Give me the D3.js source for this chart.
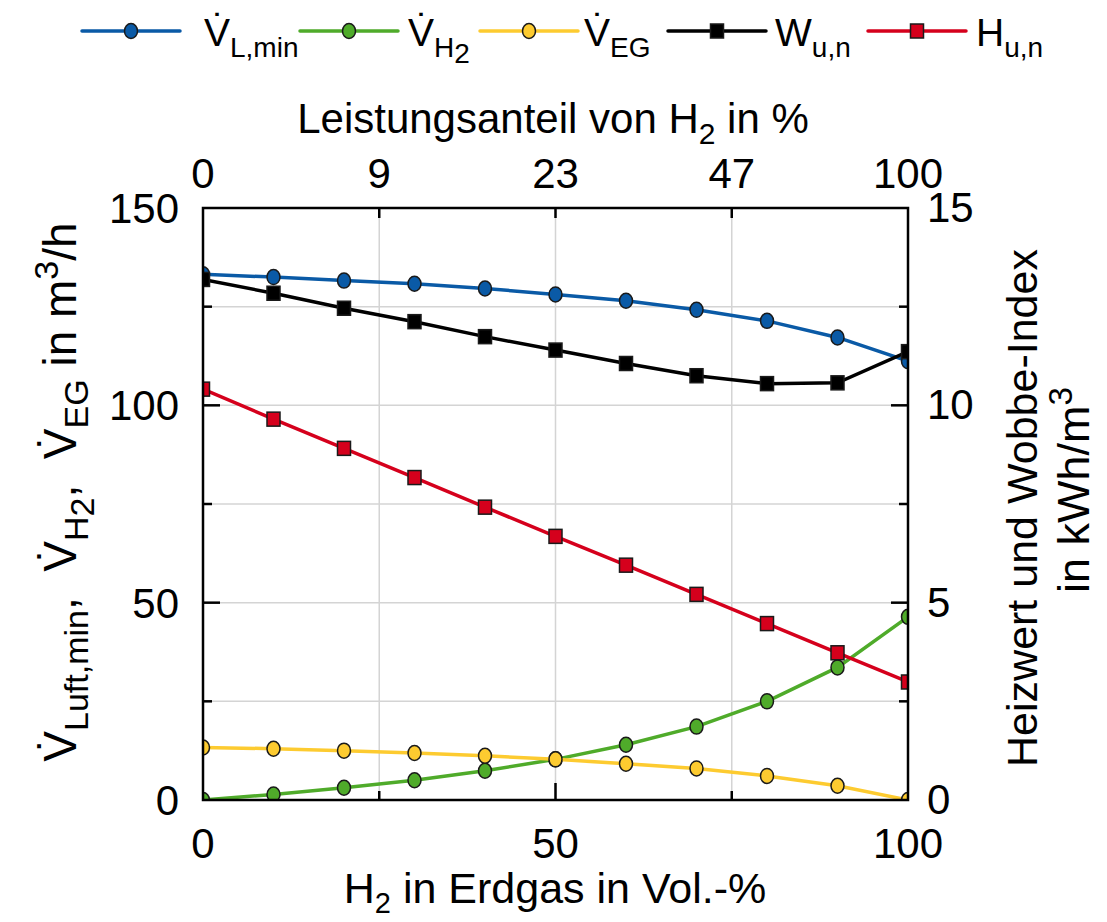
<!DOCTYPE html>
<html>
<head>
<meta charset="utf-8">
<script src="https://cdn.jsdelivr.net/npm/d3@7"></script>
<style>
  body { margin: 0; background: #fff; }
  svg text { font-family: "Liberation Sans", Arial, sans-serif; fill: #000; }
</style>
</head>
<body>
<div id="okvir"></div>
<script>
// H2 in Erdgas (Vol.-%)
const h2Anteil = [0, 10, 20, 30, 40, 50, 60, 70, 80, 90, 100]
// linke Achse, m3/h
const vLmin = [133.2, 132.5, 131.6, 130.8, 129.6, 128.1, 126.5, 124.2, 121.4, 117.2, 111.2]
const vH2 = [0, 1.4, 3.1, 5.0, 7.4, 10.3, 14.0, 18.6, 25.0, 33.6, 46.4]
const vEG = [13.3, 13.0, 12.5, 11.9, 11.2, 10.3, 9.2, 8.0, 6.1, 3.6, 0]
// rechte Achse, kWh/m3
const wun = [13.19, 12.84, 12.46, 12.12, 11.74, 11.40, 11.06, 10.75, 10.55, 10.57, 11.36]
const hun = [10.41, 9.65, 8.91, 8.17, 7.42, 6.68, 5.95, 5.21, 4.47, 3.73, 2.99]
// obere Achse
const obenPos = [0, 25, 50, 75, 100]
const obenLabel = ["0", "9", "23", "47", "100"]
const untenTicks = [0, 50, 100]
const linksTicks = [0, 50, 100, 150]
const rechtsTicks = [0, 5, 10, 15]

const W = 1107, H = 922
const gr = { left: 203, right: 908, top: 208, bottom: 800 }

const svg = d3.select("#okvir").append("svg")
  .attr("width", W).attr("height", H)

const x = d3.scaleLinear().domain([0, 100]).range([gr.left, gr.right])
const yL = d3.scaleLinear().domain([0, 150]).range([gr.bottom, gr.top])
const yR = d3.scaleLinear().domain([0, 15]).range([gr.bottom, gr.top])

const TICK = 42

// text mit Index
function richText(sel, parts, sub) {
  parts.forEach(p => {
    const ts = sel.append("tspan").text(p.t)
    if (p.sub) ts.attr("font-size", sub).attr("dy", p.dy || 11)
    else if (p.sup) ts.attr("font-size", sub).attr("dy", p.dy || -16)
    else if (p.dy) ts.attr("dy", p.dy)
  })
}

// Gitter
const gitter = svg.append("g").attr("stroke", "#d4d4d4").attr("stroke-width", 1.5)
gitter.selectAll(".gx").data([25, 50, 75]).enter().append("line")
  .attr("x1", d => x(d)).attr("x2", d => x(d)).attr("y1", gr.top).attr("y2", gr.bottom)
gitter.selectAll(".gy").data([25, 50, 75, 100, 125]).enter().append("line")
  .attr("y1", d => yL(d)).attr("y2", d => yL(d)).attr("x1", gr.left).attr("x2", gr.right)

// Ticks nach innen
const ticks = svg.append("g").attr("stroke", "#000").attr("stroke-width", 2.5)
ticks.selectAll(".tb").data([25, 50, 75]).enter().append("line")
  .attr("x1", d => x(d)).attr("x2", d => x(d))
  .attr("y1", gr.bottom).attr("y2", d => gr.bottom - (d === 50 ? 17 : 9))
ticks.selectAll(".tt").data([25, 50, 75]).enter().append("line")
  .attr("x1", d => x(d)).attr("x2", d => x(d))
  .attr("y1", gr.top).attr("y2", gr.top + 10)
ticks.selectAll(".tl").data([25, 50, 75, 100, 125]).enter().append("line")
  .attr("y1", d => yL(d)).attr("y2", d => yL(d))
  .attr("x1", gr.left).attr("x2", d => gr.left + (d % 50 === 0 ? 17 : 9))
ticks.selectAll(".tr").data([25, 50, 75, 100, 125]).enter().append("line")
  .attr("y1", d => yL(d)).attr("y2", d => yL(d))
  .attr("x1", gr.right).attr("x2", d => gr.right - (d % 50 === 0 ? 17 : 9))

// Daten
svg.append("clipPath").attr("id", "clip")
  .append("rect").attr("x", gr.left).attr("y", gr.top)
  .attr("width", gr.right - gr.left).attr("height", gr.bottom - gr.top)

const serien = [
  { name: "vl", werte: vLmin, y: yL, farbe: "#0a5aa6", form: "kreis" },
  { name: "vh2", werte: vH2, y: yL, farbe: "#4fab2a", form: "kreis" },
  { name: "veg", werte: vEG, y: yL, farbe: "#fdcb30", form: "kreis" },
  { name: "wun", werte: wun, y: yR, farbe: "#000000", form: "quadrat" },
  { name: "hun", werte: hun, y: yR, farbe: "#d5001c", form: "quadrat" },
]

function marker(g, form, farbe, cx, cy) {
  if (form === "kreis") {
    g.append("ellipse").attr("cx", cx).attr("cy", cy).attr("rx", 6.5).attr("ry", 7.5)
      .attr("fill", farbe).attr("stroke", "#1a1a1a").attr("stroke-width", 1.5)
  } else {
    g.append("rect").attr("x", cx - 6.5).attr("y", cy - 7).attr("width", 13).attr("height", 14)
      .attr("fill", farbe).attr("stroke", "#1a1a1a").attr("stroke-width", 1.5)
  }
}

const daten = svg.append("g").attr("clip-path", "url(#clip)")
serien.forEach(s => {
  const pts = h2Anteil.map((h, i) => [x(h), s.y(s.werte[i])])
  daten.append("path")
    .attr("d", d3.line()(pts))
    .attr("fill", "none").attr("stroke", s.farbe).attr("stroke-width", 3.5)
  pts.forEach(p => marker(daten, s.form, s.farbe, p[0], p[1]))
})

// Rahmen
svg.append("rect")
  .attr("x", gr.left).attr("y", gr.top)
  .attr("width", gr.right - gr.left).attr("height", gr.bottom - gr.top)
  .attr("fill", "none").attr("stroke", "#000").attr("stroke-width", 2.5)

// Achsenbeschriftungen
svg.selectAll(".xu").data(untenTicks).enter().append("text")
  .attr("x", d => x(d)).attr("y", 858).attr("text-anchor", "middle")
  .attr("font-size", TICK).text(d => d)
svg.selectAll(".xo").data(obenPos).enter().append("text")
  .attr("x", d => x(d)).attr("y", 188).attr("text-anchor", "middle")
  .attr("font-size", TICK).text((d, i) => obenLabel[i])
svg.selectAll(".yl").data(linksTicks).enter().append("text")
  .attr("x", 179).attr("y", d => yL(d) + 15).attr("text-anchor", "end")
  .attr("font-size", TICK).text(d => d)
svg.selectAll(".yr").data(rechtsTicks).enter().append("text")
  .attr("x", 927).attr("y", d => yR(d) + 14).attr("text-anchor", "start")
  .attr("font-size", TICK).text(d => d)

// Titel unten
richText(svg.append("text").attr("x", 555).attr("y", 903).attr("text-anchor", "middle").attr("font-size", 43),
  [{ t: "H" }, { t: "2", sub: true, dy: 10 }, { t: " in Erdgas in Vol.-%", dy: -10 }], 29)
// Titel oben
richText(svg.append("text").attr("x", 553).attr("y", 133).attr("text-anchor", "middle").attr("font-size", 42),
  [{ t: "Leistungsanteil von H" }, { t: "2", sub: true }, { t: " in %", dy: -11 }], 30)

// linke Achse
richText(svg.append("text").attr("transform", "translate(76,492) rotate(-90)")
  .attr("text-anchor", "middle").attr("font-size", 46).attr("xml:space", "preserve"),
  [{ t: "V\u0307" }, { t: "Luft,min", sub: true, dy: 12 }, { t: ",  V\u0307", dy: -12 }, { t: "H", sub: true, dy: 12 }, { t: "2", sub: true, dy: 6 },
   { t: ",  V\u0307", dy: -18 }, { t: "EG", sub: true, dy: 12 }, { t: " in m", dy: -12 }, { t: "3", sup: true, dy: -18 }, { t: "/h", dy: 18 }], 34)

// rechte Achse
svg.append("text").attr("transform", "translate(1037,508) rotate(-90)")
  .attr("text-anchor", "middle").attr("font-size", 43).text("Heizwert und Wobbe-Index")
richText(svg.append("text").attr("transform", "translate(1089,490) rotate(-90)")
  .attr("text-anchor", "middle").attr("font-size", 45),
  [{ t: "in kWh/m" }, { t: "3", sup: true, dy: -17 }], 33)

// Legende
const legende = [
  { x0: 82, farbe: "#0a5aa6", form: "kreis", tx: 204, parts: [{ t: "V\u0307" }, { t: "L,min", sub: true }] },
  { x0: 300, farbe: "#4fab2a", form: "kreis", tx: 408, parts: [{ t: "V\u0307" }, { t: "H", sub: true }, { t: "2", sub: true, dy: 6 }] },
  { x0: 480, farbe: "#fdcb30", form: "kreis", tx: 584, parts: [{ t: "V\u0307" }, { t: "EG", sub: true }] },
  { x0: 668, farbe: "#000000", form: "quadrat", tx: 775, parts: [{ t: "W" }, { t: "u,n", sub: true }] },
  { x0: 868, farbe: "#d5001c", form: "quadrat", tx: 976, parts: [{ t: "H" }, { t: "u,n", sub: true }] },
]
const ly = 31
legende.forEach(l => {
  const g = svg.append("g")
  g.append("line").attr("x1", l.x0).attr("x2", l.x0 + 98).attr("y1", ly).attr("y2", ly)
    .attr("stroke", l.farbe).attr("stroke-width", 3.5).attr("stroke-linecap", "round")
  marker(g, l.form, l.farbe, l.x0 + 49, ly)
  richText(g.append("text").attr("x", l.tx).attr("y", ly + 15).attr("font-size", 39), l.parts, 28)
})
</script>
</body>
</html>
